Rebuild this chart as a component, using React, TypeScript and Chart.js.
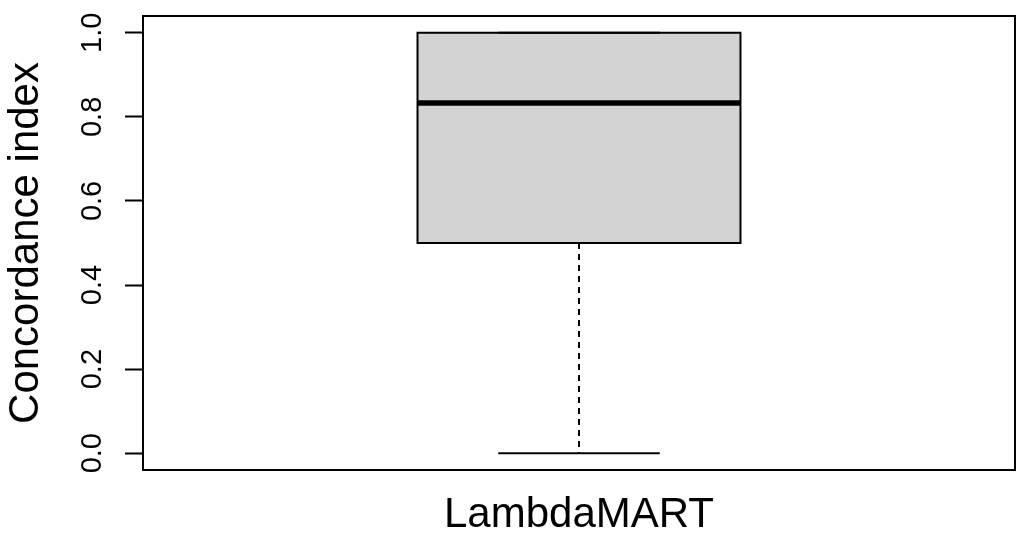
import { useEffect, useRef } from "react"
import { Chart, registerables } from "chart.js"

Chart.register(...registerables)

// summary statistics
const categories = ["LambdaMART"]
const lowerWhisker = [0.0]
const lowerQuartile = [0.5]
const medians = [0.833]
const upperQuartile = [1.0]
const upperWhisker = [1.0]
const yTicks = [0, 0.2, 0.4, 0.6, 0.8, 1.0]

const BOX_HALF = 0.2
const CAP_HALF = 0.1

// R style box around the plotting region
const framePlugin = {
  id: "frame",
  afterDatasetsDraw(chart: Chart) {
    const { ctx, chartArea } = chart
    ctx.save()
    ctx.strokeStyle = "#000"
    ctx.lineWidth = 2
    ctx.strokeRect(chartArea.left, chartArea.top, chartArea.right - chartArea.left, chartArea.bottom - chartArea.top)
    ctx.restore()
  },
}

export default function App() {
  const canvasRef = useRef<HTMLCanvasElement>(null)

  useEffect(() => {
    if (!canvasRef.current) return
    Chart.defaults.font.family = "'Liberation Sans', Arial, sans-serif"
    Chart.defaults.color = "#000"

    const datasets: any[] = []
    categories.forEach((_, i) => {
      const x = i + 1
      const line = { pointRadius: 0, borderColor: "#000", borderWidth: 2, showLine: true, fill: false, tension: 0 }
      datasets.push({
        ...line,
        order: 3,
        data: [
          { x: x - BOX_HALF, y: lowerQuartile[i] },
          { x: x + BOX_HALF, y: lowerQuartile[i] },
          { x: x + BOX_HALF, y: upperQuartile[i] },
          { x: x - BOX_HALF, y: upperQuartile[i] },
          { x: x - BOX_HALF, y: lowerQuartile[i] },
        ],
        fill: "shape",
        backgroundColor: "#d3d3d3",
        borderJoinStyle: "miter",
        borderCapStyle: "square",
      })
      datasets.push({
        ...line,
        order: 2,
        data: [
          { x, y: lowerQuartile[i] },
          { x, y: lowerWhisker[i] },
        ],
        borderDash: [6, 5],
      })
      datasets.push({
        ...line,
        order: 2,
        data: [
          { x, y: upperQuartile[i] },
          { x, y: upperWhisker[i] },
        ],
        borderDash: [6, 5],
      })
      datasets.push({
        ...line,
        order: 2,
        data: [
          { x: x - CAP_HALF, y: lowerWhisker[i] },
          { x: x + CAP_HALF, y: lowerWhisker[i] },
        ],
      })
      datasets.push({
        ...line,
        order: 2,
        data: [
          { x: x - CAP_HALF, y: upperWhisker[i] },
          { x: x + CAP_HALF, y: upperWhisker[i] },
        ],
      })
      datasets.push({
        ...line,
        order: 0,
        borderWidth: 5.5,
        borderCapStyle: "butt",
        data: [
          { x: x - BOX_HALF, y: medians[i] },
          { x: x + BOX_HALF, y: medians[i] },
        ],
      })
    })

    const chart = new Chart(canvasRef.current, {
      type: "scatter",
      data: { datasets },
      plugins: [framePlugin],
      options: {
        animation: false,
        responsive: true,
        maintainAspectRatio: false,
        layout: { padding: { top: 16, right: 9, left: 0, bottom: 0 } },
        plugins: { legend: { display: false }, tooltip: { enabled: false } },
        scales: {
          x: {
            type: "linear",
            min: 0.46,
            max: categories.length + 0.54,
            ticks: { display: false },
            grid: { display: false },
            border: { display: false },
            title: {
              display: true,
              text: categories[0],
              font: { size: 42, lineHeight: 1.1 },
              padding: { top: 0, bottom: 0 },
              color: "#000",
            },
            afterFit: (scale: any) => {
              scale.height = 69
              scale.paddingLeft = 0
              scale.paddingRight = 0
            },
          },
          y: {
            type: "linear",
            min: -0.04,
            max: 1.04,
            afterBuildTicks: (scale: any) => {
              scale.ticks = yTicks.map((v) => ({ value: v }))
            },
            ticks: {
              minRotation: 90,
              maxRotation: 90,
              crossAlign: "center",
              padding: 12,
              font: { size: 29 },
              color: "#000",
              callback: (v: any) => Number(v).toFixed(1),
            },
            grid: {
              drawOnChartArea: false,
              drawTicks: true,
              tickLength: 18,
              tickWidth: 2,
              tickColor: "#000",
            },
            border: { display: false },
            title: {
              display: true,
              text: "Concordance index",
              font: { size: 42, lineHeight: 1.2 },
              padding: { top: 1, bottom: 0 },
              color: "#000",
            },
            afterFit: (scale: any) => {
              scale.width = 143
              scale.paddingTop = 0
              scale.paddingBottom = 0
            },
          },
        },
      },
    })

    return () => chart.destroy()
  }, [])

  return (
    <div style={{ position: "fixed", left: 0, top: 0, width: 1024, height: 539, background: "#fff" }}>
      <canvas ref={canvasRef}></canvas>
    </div>
  )
}
